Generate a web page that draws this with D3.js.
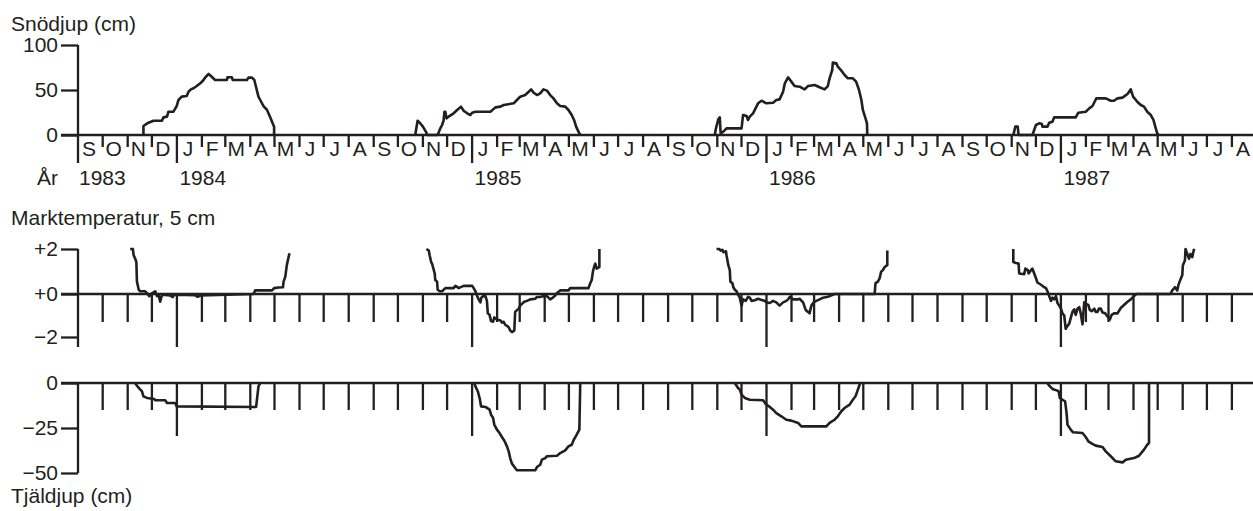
<!DOCTYPE html>
<html>
<head>
<meta charset="utf-8">
<script src="https://cdn.jsdelivr.net/npm/d3@7"></script>
<style>
  body { margin: 0; background: #fff; }
  svg { display: block; }
  text { font-family: "Liberation Sans", Arial, sans-serif; font-size: 21px; fill: #231f20; }
</style>
</head>
<body>
<svg id="chart" width="1253" height="511"></svg>
<script>
//	month initials (Jan..Dec) and the years on the time axis
var monthLetters = ["J", "F", "M", "A", "M", "J", "J", "A", "S", "O", "N", "D"];
var yearLabels = [1983, 1984, 1985, 1986, 1987];

//	y tick values and their labels, one pair per panel
var snowTicks = [0, 50, 100],
    snowTickLabels = ["0", "50", "100"];
var tempTicks = [2, 0, -2],
    tempTickLabels = ["+2", "+0", "\u22122"];
var frostTicks = [0, -25, -50],
    frostTickLabels = ["0", "\u221225", "\u221250"];

//	snow depth (cm), one array per winter, [decimal year, value]
var snow1984 = [[1983.888,0],[1983.888,10],[1983.905,13.7],[1983.922,15.9],[1983.951,15.9],[1983.956,19.6],[1983.968,20.4],[1983.973,25.9],[1983.990,25.9],[1984.001,32.2],[1984.007,38.9],[1984.018,42.6],[1984.035,43.3],[1984.041,48.1],[1984.049,50.7],[1984.058,51.9],[1984.069,54.4],[1984.081,57.4],[1984.092,61.1],[1984.098,64.1],[1984.109,67.8],[1984.117,65.6],[1984.131,61.1],[1984.171,61.1],[1984.173,64.1],[1984.188,64.1],[1984.191,61.1],[1984.239,61.1],[1984.244,63.7],[1984.256,63.7],[1984.264,61.1],[1984.270,53],[1984.278,42.6],[1984.284,38.9],[1984.295,32.2],[1984.307,27.8],[1984.316,21.1],[1984.324,14.8],[1984.331,9.3],[1984.331,0]];
var snow1985 = [[1984.809,0],[1984.817,15.9],[1984.826,13],[1984.835,9.3],[1984.847,2.6],[1984.849,0],[1984.885,0],[1984.894,7.4],[1984.900,11.1],[1984.905,15.9],[1984.908,25.9],[1984.911,25.9],[1984.915,18.5],[1984.922,20.4],[1984.939,24.1],[1984.951,27.8],[1984.964,31.5],[1984.973,27],[1984.985,24.1],[1984.996,22.2],[1985.002,24.8],[1985.013,25.9],[1985.064,25.9],[1985.081,30.7],[1985.098,31.5],[1985.109,33.3],[1985.143,35.2],[1985.154,38.9],[1985.165,42.6],[1985.182,44.4],[1985.194,48.1],[1985.202,50.7],[1985.211,47],[1985.222,44.4],[1985.233,46.3],[1985.244,50.7],[1985.256,49.3],[1985.267,44.4],[1985.278,40.7],[1985.290,35.2],[1985.301,32.2],[1985.318,31.5],[1985.329,27.8],[1985.340,22.2],[1985.348,16.7],[1985.355,9.3],[1985.363,3.7],[1985.369,0]];
var snow1986 = [[1985.826,0],[1985.830,7.4],[1985.838,17.4],[1985.843,19.6],[1985.846,1.9],[1985.855,3.7],[1985.866,7.4],[1985.917,7.4],[1985.922,22.2],[1985.934,21.1],[1985.939,16.7],[1985.945,20.4],[1985.956,24.1],[1985.973,35.2],[1985.985,38.1],[1986.001,35.2],[1986.024,35.9],[1986.035,38.9],[1986.046,39.6],[1986.058,48.1],[1986.064,57.4],[1986.075,64.1],[1986.086,59.3],[1986.097,54.4],[1986.114,53.7],[1986.131,50.7],[1986.143,54.4],[1986.165,55.6],[1986.182,53],[1986.199,50.7],[1986.210,54.4],[1986.216,63],[1986.225,72.2],[1986.227,80.4],[1986.239,79.6],[1986.244,75.9],[1986.256,71.5],[1986.267,66.7],[1986.278,63],[1986.295,63],[1986.306,59.3],[1986.316,50],[1986.324,38.9],[1986.329,27.8],[1986.338,18.5],[1986.343,13],[1986.344,0]];
var snow1987 = [[1986.840,0],[1986.847,9.3],[1986.855,9.3],[1986.858,0],[1986.905,0],[1986.911,5.6],[1986.917,11.1],[1986.928,13],[1986.937,12.2],[1986.939,9.3],[1986.956,9.3],[1986.962,13.7],[1986.973,14.8],[1986.979,19.6],[1987.052,19.6],[1987.061,24.8],[1987.086,25.9],[1987.098,29.6],[1987.109,32.2],[1987.122,40.7],[1987.154,40.7],[1987.171,38.1],[1987.182,38.1],[1987.194,40.7],[1987.211,41.5],[1987.228,45.6],[1987.239,50.7],[1987.247,42.6],[1987.261,37],[1987.273,33.3],[1987.284,31.5],[1987.295,25.9],[1987.307,22.2],[1987.316,16.7],[1987.324,7.4],[1987.329,1.9],[1987.333,0]];

//	soil temperature at 5 cm (deg C), one array per winter
var temp1984 = [[1983.843,2],[1983.852,2],[1983.855,1.71],[1983.860,1.57],[1983.864,1.42],[1983.866,0.55],[1983.872,0.19],[1983.877,0.12],[1983.894,0.12],[1983.900,0.04],[1983.908,-0.1],[1983.913,0],[1983.922,0.07],[1983.928,0.12],[1983.934,-0.1],[1983.939,-0.03],[1983.945,-0.36],[1983.951,-0.03],[1983.979,-0.07],[1983.988,-0.14],[1983.992,-0.03],[1984.064,-0.06],[1984.072,-0.13],[1984.081,-0.07],[1984.261,0],[1984.267,0.16],[1984.324,0.16],[1984.331,0.26],[1984.346,0.29],[1984.361,0.3],[1984.363,0.55],[1984.369,0.77],[1984.374,1.28],[1984.380,1.64],[1984.383,1.81]];
var temp1985 = [[1984.847,2],[1984.855,1.93],[1984.858,1.71],[1984.863,1.42],[1984.866,1.35],[1984.872,1.06],[1984.875,0.91],[1984.877,0.62],[1984.883,0.55],[1984.885,0.19],[1984.892,0.12],[1984.900,0.12],[1984.911,0.26],[1984.939,0.26],[1984.945,0.36],[1984.953,0.3],[1984.956,0.26],[1984.973,0.36],[1985.002,0.36],[1985.007,0.26],[1985.013,0.12],[1985.018,-0.07],[1985.024,-0.25],[1985.030,-0.39],[1985.033,-0.17],[1985.039,-0.1],[1985.047,-0.1],[1985.052,-0.32],[1985.055,-0.9],[1985.061,-0.97],[1985.066,-1.26],[1985.073,-1.29],[1985.077,-1.09],[1985.086,-1.19],[1985.098,-1.23],[1985.103,-1.33],[1985.109,-1.29],[1985.114,-1.43],[1985.120,-1.48],[1985.126,-1.55],[1985.131,-1.7],[1985.137,-1.77],[1985.145,-1.7],[1985.148,-0.83],[1985.154,-0.75],[1985.160,-0.68],[1985.165,-0.54],[1985.171,-0.46],[1985.179,-0.36],[1985.188,-0.32],[1985.199,-0.25],[1985.216,-0.22],[1985.222,-0.14],[1985.233,-0.14],[1985.242,-0.1],[1985.256,-0.1],[1985.267,-0.25],[1985.276,-0.17],[1985.284,-0.07],[1985.290,0.04],[1985.301,0.16],[1985.329,0.16],[1985.335,0.26],[1985.397,0.26],[1985.403,0.48],[1985.408,0.62],[1985.412,0.99],[1985.416,1.2],[1985.420,1.35],[1985.425,1.13],[1985.434,1.2],[1985.434,2]];
var temp1986 = [[1985.832,2],[1985.841,2],[1985.846,1.93],[1985.852,1.96],[1985.855,1.86],[1985.864,1.9],[1985.866,1.71],[1985.872,1.28],[1985.877,1.06],[1985.879,0.55],[1985.886,0.48],[1985.889,0.3],[1985.894,0.19],[1985.900,0.12],[1985.905,-0.03],[1985.911,-0.17],[1985.917,-0.54],[1985.922,-0.25],[1985.931,-0.32],[1985.939,-0.13],[1985.945,-0.17],[1985.951,-0.32],[1985.962,-0.29],[1985.973,-0.22],[1985.985,-0.28],[1985.996,-0.32],[1986.001,-0.39],[1986.013,-0.42],[1986.024,-0.32],[1986.035,-0.39],[1986.046,-0.54],[1986.058,-0.39],[1986.069,-0.32],[1986.075,-0.25],[1986.081,-0.13],[1986.092,-0.25],[1986.109,-0.25],[1986.114,-0.22],[1986.126,-0.39],[1986.135,-0.75],[1986.143,-0.83],[1986.148,-0.9],[1986.154,-0.54],[1986.162,-0.39],[1986.171,-0.32],[1986.182,-0.25],[1986.194,-0.17],[1986.210,-0.13],[1986.216,-0.1],[1986.233,0],[1986.369,0],[1986.372,0.48],[1986.380,0.55],[1986.386,0.7],[1986.391,0.99],[1986.397,1.06],[1986.403,1.2],[1986.412,1.28],[1986.412,1.93]];
var temp1987 = [[1986.840,2],[1986.840,1.42],[1986.849,1.38],[1986.858,1.35],[1986.860,0.91],[1986.877,0.88],[1986.881,1.13],[1986.889,1.06],[1986.892,0.91],[1986.900,1.06],[1986.905,1.13],[1986.911,0.91],[1986.917,0.7],[1986.922,0.51],[1986.934,0.41],[1986.942,0.33],[1986.951,0.26],[1986.956,0.12],[1986.962,-0.1],[1986.968,-0.32],[1986.973,-0.17],[1986.979,-0.25],[1986.985,-0.1],[1986.990,-0.42],[1986.996,-0.54],[1987.002,-0.68],[1987.007,-0.9],[1987.013,-1.0],[1987.018,-1.62],[1987.024,-1.48],[1987.030,-1.38],[1987.035,-1.12],[1987.041,-0.83],[1987.047,-0.71],[1987.052,-0.97],[1987.058,-0.68],[1987.064,-0.61],[1987.069,-0.9],[1987.075,-1.41],[1987.081,-0.39],[1987.086,-0.46],[1987.095,-0.51],[1987.100,-0.75],[1987.107,-0.8],[1987.115,-0.68],[1987.120,-0.83],[1987.126,-0.83],[1987.131,-0.68],[1987.137,-0.68],[1987.143,-0.86],[1987.152,-0.9],[1987.160,-1.04],[1987.168,-1.19],[1987.174,-0.97],[1987.182,-0.9],[1987.194,-0.9],[1987.205,-0.65],[1987.216,-0.51],[1987.228,-0.36],[1987.239,-0.25],[1987.250,-0.1],[1987.258,0],[1987.374,0],[1987.380,0.16],[1987.389,0.3],[1987.397,0.16],[1987.400,0.36],[1987.405,0.55],[1987.414,0.84],[1987.416,1.28],[1987.423,1.49],[1987.425,2],[1987.431,1.78],[1987.437,1.57],[1987.442,1.78],[1987.448,1.64],[1987.453,1.96],[1987.457,1.93]];

//	frost depth (cm, negative downwards), one array per winter
var frost1984 = [[1983.860,0],[1983.866,-1.5],[1983.875,-3.3],[1983.883,-4.6],[1983.888,-7.4],[1983.900,-8.3],[1983.925,-8.9],[1983.928,-9.6],[1983.962,-9.6],[1983.968,-11.1],[1983.996,-11.1],[1984.001,-13],[1984.270,-13.3],[1984.278,-1.9],[1984.284,0]];
var frost1985 = [[1985.009,0],[1985.013,-1.9],[1985.021,-4.6],[1985.028,-8.9],[1985.032,-13],[1985.047,-13.3],[1985.061,-14.8],[1985.066,-17.6],[1985.073,-19.4],[1985.077,-23.1],[1985.086,-25.9],[1985.095,-27.8],[1985.103,-30],[1985.109,-31.5],[1985.114,-33],[1985.120,-35.2],[1985.126,-38],[1985.131,-41.7],[1985.137,-44.8],[1985.148,-47.2],[1985.154,-48.5],[1985.216,-48.5],[1985.222,-46.7],[1985.233,-45.4],[1985.239,-42.6],[1985.250,-41.7],[1985.256,-40.7],[1985.290,-40.4],[1985.301,-38.9],[1985.318,-37.4],[1985.329,-35.2],[1985.340,-34.3],[1985.346,-31.9],[1985.357,-28.7],[1985.366,-25.9],[1985.369,0]];
var frost1986 = [[1985.894,0],[1985.905,-2.8],[1985.911,-3.7],[1985.917,-6.5],[1985.928,-8.3],[1985.945,-9.3],[1985.990,-9.6],[1986.001,-12],[1986.013,-13.3],[1986.024,-14.8],[1986.035,-16.7],[1986.052,-18.5],[1986.069,-20.4],[1986.086,-20.9],[1986.109,-22.2],[1986.120,-24.1],[1986.205,-24.1],[1986.216,-22.2],[1986.233,-20.4],[1986.244,-18.5],[1986.256,-15.7],[1986.267,-13.9],[1986.284,-12],[1986.295,-9.3],[1986.304,-7.4],[1986.312,-3.7],[1986.320,0]];
var frost1987 = [[1986.956,0],[1986.962,-1.5],[1986.973,-3.3],[1986.987,-4.1],[1986.994,-4.6],[1986.998,-8.3],[1987.007,-9.3],[1987.016,-10.2],[1987.021,-16.7],[1987.024,-23.1],[1987.035,-25.9],[1987.043,-27.4],[1987.075,-27.8],[1987.086,-30],[1987.095,-32.4],[1987.107,-33.7],[1987.120,-34.8],[1987.143,-35.6],[1987.154,-38],[1987.171,-40.7],[1987.188,-43.5],[1987.211,-44.1],[1987.222,-42.6],[1987.250,-41.7],[1987.267,-40.4],[1987.284,-37],[1987.295,-34.3],[1987.301,-33.3],[1987.301,0]];

var snowSeries = [snow1984, snow1985, snow1986, snow1987],
    tempSeries = [temp1984, temp1985, temp1986, temp1987],
    frostSeries = [frost1984, frost1985, frost1986, frost1987];

//	svg and sizing
var svg = d3.select("#chart"),
    width = +svg.attr("width"),
    ink = "#231f20",
    axisLeftX = 78,
    yTick = 17;

//	decimal year -> Date
function decToDate(d) {
  var y = Math.floor(d),
      a = new Date(y, 0, 1),
      b = new Date(y + 1, 0, 1);
  return new Date(+a + (d - y) * (b - a));
}

//	shared time scale, Sep 1983 .. Sep 1987
var x = d3.scaleTime()
  .domain([new Date(1983, 8, 1), new Date(1987, 8, 1)])
  .range([axisLeftX, axisLeftX + 4 * 294.6]);

var monthStarts = d3.timeMonth.range(new Date(1983, 9, 1), new Date(1987, 8, 1));
var allMonths = d3.timeMonth.range(new Date(1983, 8, 1), new Date(1987, 8, 1));

//	one panel: y axis, zero line, month ticks, data lines
function panel(opts) {
  var y = opts.y,
      g = svg.append("g"),
      zero = y(0),
      yr = y.range();

  // y ticks and labels
  g.append("g")
    .attr("transform", "translate(" + axisLeftX + ",0)")
    .attr("color", ink)
    .call(d3.axisLeft(y)
      .tickValues(opts.ticks)
      .tickSize(yTick)
      .tickPadding(3)
      .tickFormat(function(d, i) { return opts.tickLabels[i]; }))
    .call(function(a) {
      a.select(".domain").remove();
      a.selectAll("line").attr("stroke-width", 2.3);
    });

  // vertical axis line, down to the year ticks or the lowest tick
  g.append("line")
    .attr("x1", axisLeftX).attr("x2", axisLeftX)
    .attr("y1", d3.min(yr)).attr("y2", Math.max(zero + opts.longTick, d3.max(yr)))
    .attr("stroke", ink).attr("stroke-width", 2.3);

  // month ticks below the zero line, longer for January
  g.append("g")
    .attr("transform", "translate(0," + zero + ")")
    .attr("color", ink)
    .call(d3.axisBottom(x).tickValues(monthStarts).tickSize(opts.shortTick).tickFormat(""))
    .call(function(a) {
      a.select(".domain").remove();
      a.selectAll(".tick line")
        .attr("stroke-width", 2.3)
        .attr("y2", function(d) { return d.getMonth() === 0 ? opts.longTick : opts.shortTick; });
    });

  // zero line
  g.append("line")
    .attr("x1", axisLeftX - yTick).attr("x2", width)
    .attr("y1", zero).attr("y2", zero)
    .attr("stroke", ink).attr("stroke-width", 2.3);

  var line = d3.line()
    .x(function(d) { return x(decToDate(d[0])); })
    .y(function(d) { return y(d[1]); });

  g.selectAll(".series")
    .data(opts.series)
    .enter().append("path")
    .attr("class", "series")
    .attr("d", line)
    .attr("fill", "none")
    .attr("stroke", ink)
    .attr("stroke-width", 2.6)
    .attr("stroke-linejoin", "round");

  return g;
}

//	scales for the three panels
var ySnow = d3.scaleLinear().domain([0, 100]).range([135, 45]);
var yTemp = d3.scaleLinear().domain([-2, 0, 2]).range([337, 294, 249]);
var yFrost = d3.scaleLinear().domain([-50, 0]).range([473, 383]);

panel({ y: ySnow, ticks: snowTicks, tickLabels: snowTickLabels, series: snowSeries,
        shortTick: 12, longTick: 28 });
panel({ y: yTemp, ticks: tempTicks, tickLabels: tempTickLabels, series: tempSeries,
        shortTick: 28, longTick: 53 });
panel({ y: yFrost, ticks: frostTicks, tickLabels: frostTickLabels, series: frostSeries,
        shortTick: 27, longTick: 53 });

//	month initials, centred in each month
svg.append("g").selectAll("text")
  .data(allMonths)
  .enter().append("text")
  .attr("x", function(d) { return (x(d) + x(d3.timeMonth.offset(d, 1))) / 2 - 1; })
  .attr("y", 156)
  .attr("text-anchor", "middle")
  .text(function(d) { return monthLetters[d.getMonth()]; });

//	year labels
svg.append("text").attr("x", 58).attr("y", 185).attr("text-anchor", "end").text("År");
svg.append("g").selectAll("text")
  .data(yearLabels)
  .enter().append("text")
  .attr("x", function(d, i) { return i === 0 ? axisLeftX + 1 : x(new Date(d, 0, 1)) + 3; })
  .attr("y", 185)
  .text(function(d) { return d; });

//	panel titles
svg.append("text").attr("x", 11).attr("y", 31).text("Snödjup (cm)");
svg.append("text").attr("x", 11).attr("y", 225).text("Marktemperatur, 5 cm");
svg.append("text").attr("x", 11).attr("y", 503).text("Tjäldjup (cm)");
</script>
</body>
</html>
